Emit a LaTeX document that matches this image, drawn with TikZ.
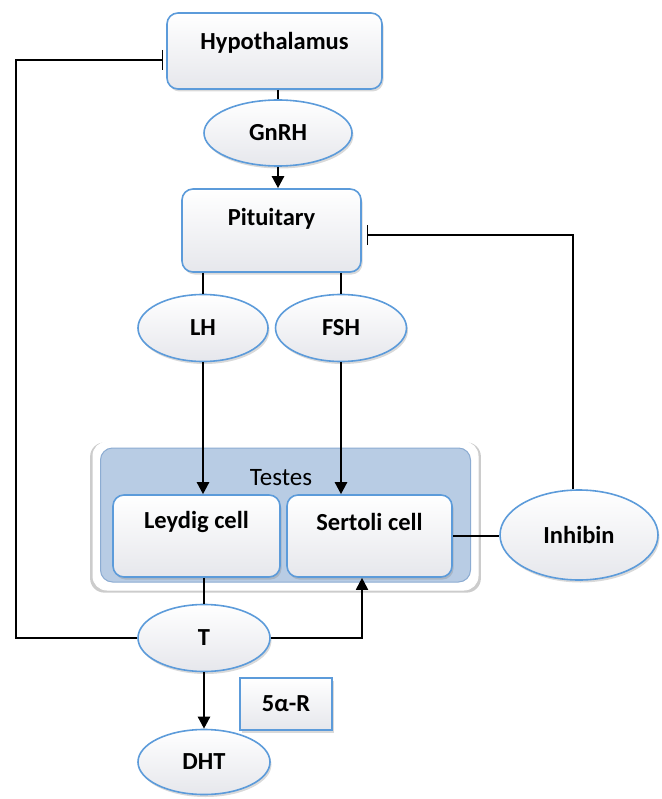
\documentclass[tikz,border=0pt]{standalone}
\usepackage{fontspec}
\setmainfont{Carlito}
\usetikzlibrary{arrows.meta,shapes.geometric,shadows}
\definecolor{bord}{RGB}{92,155,218}
\definecolor{shadeb}{RGB}{230,231,236}
\definecolor{testfill}{RGB}{184,204,228}
\definecolor{testbord}{RGB}{140,172,210}
\tikzset{
  rbox/.style={draw=bord, line width=1.6pt, rounded corners=11pt, top color=white, bottom color=shadeb, shading angle=0,
    drop shadow={opacity=0.3, shadow xshift=1.5pt, shadow yshift=-2.5pt}},
  sbox/.style={draw=bord, line width=1.8pt, top color=white, bottom color=shadeb,
    drop shadow={opacity=0.3, shadow xshift=1.5pt, shadow yshift=-2.5pt}},
  oval/.style={ellipse, draw=bord, line width=1.6pt, top color=white, bottom color=shadeb,
    drop shadow={opacity=0.3, shadow xshift=1.5pt, shadow yshift=-2.5pt}, font=\fontsize{24.5}{28}\selectfont\bfseries},
  lbl/.style={font=\fontsize{24.5}{28}\selectfont\bfseries},
  thick line/.style={line width=2.4pt},
  thin line/.style={line width=1.3pt},
  arr/.style={line width=2.4pt, -{Triangle[length=12pt,width=12pt]}},
  inh/.style={line width=1.3pt, -{Bar[width=20pt,line width=1.6pt]}},
}
\begin{document}
\begin{tikzpicture}[x=1pt,y=-1pt]
\useasboundingbox (0,0) rectangle (661,799);
% Testes container
\node[draw=white, line width=1pt, fill=white, rounded corners=14pt, minimum width=385pt, minimum height=148pt,
  drop shadow={opacity=0.4, shadow xshift=0pt, shadow yshift=-1.5pt, shadow scale=1.015}] (testout) at (285.5,516) {};
\node[draw=testbord, line width=1pt, fill=testfill, rounded corners=12pt, minimum width=370pt, minimum height=134pt] (testin) at (285.5,515) {};
\node[font=\fontsize{25}{28}\selectfont] (testlbl) at (281,478) {Testes};

% Boxes
\node[rbox, minimum width=215pt, minimum height=76pt] (hyp) at (274.5,51) {};
\node[lbl] (hyptxt) at (274.5,43) {Hypothalamus};
\node[rbox, minimum width=179pt, minimum height=83pt] (pit) at (271.5,230.5) {};
\node[lbl] (pittxt) at (271.5,219) {Pituitary};
\node[rbox, minimum width=167pt, minimum height=82pt] (ley) at (196.5,536) {};
\node[lbl] (leytxt) at (196.5,522) {Leydig cell};
\node[rbox, minimum width=165pt, minimum height=82pt] (ser) at (369.5,536) {};
\node[lbl] (sertxt) at (369.5,522) {Sertoli cell};
\node[sbox, minimum width=92pt, minimum height=52pt] (red) at (286,704) {};
\node[lbl] (redtxt) at (286,704) {5α-R};

% Ellipses
\node[oval, minimum width=148pt, minimum height=66pt] (gnrh) at (278,133) {GnRH};
\node[oval, minimum width=130pt, minimum height=67pt] (lh) at (203,328) {LH};
\node[oval, minimum width=131pt, minimum height=67pt] (fsh) at (341,328) {FSH};
\node[oval, minimum width=158pt, minimum height=90pt] (inhib) at (579,535) {Inhibin};
\node[oval, minimum width=132pt, minimum height=67pt] (t) at (204,638) {T};
\node[oval, minimum width=132pt, minimum height=65pt] (dht) at (204,762) {DHT};

% Coordinates
\coordinate (c1) at (16,638);
\coordinate (c2) at (16,60);
\coordinate (c3) at (362,638);
\coordinate (c4) at (573,235);

% Connectors
\draw[thick line] (gnrh.north |- hyp.south) -- (gnrh.north);
\draw[arr] (gnrh.south) -- (gnrh.south |- pit.north);
\draw[thick line] (lh.north |- pit.south) -- (lh.north);
\draw[thick line] (fsh.north |- pit.south) -- (fsh.north);
\draw[arr] (lh.south) -- (lh.south |- ley.north);
\draw[arr] (fsh.south) -- (fsh.south |- ser.north);
\draw[thick line] (t.north |- ley.south) -- (t.north);
\draw[arr] (t.south) -- (dht.north);
\draw[inh, shorten >=3pt] (t.west) -- (c1) -- (c2) -- (c2 -| hyp.west);
\draw[arr, line width=1.8pt] (t.east) -- (c3) -- (c3 |- ser.south);
\draw[thin line] (ser.east) -- (ser.east -| inhib.west);
\draw[inh, shorten >=5pt] (c4 |- inhib.north) -- (c4) -- (c4 -| pit.east);
\end{tikzpicture}
\end{document}
